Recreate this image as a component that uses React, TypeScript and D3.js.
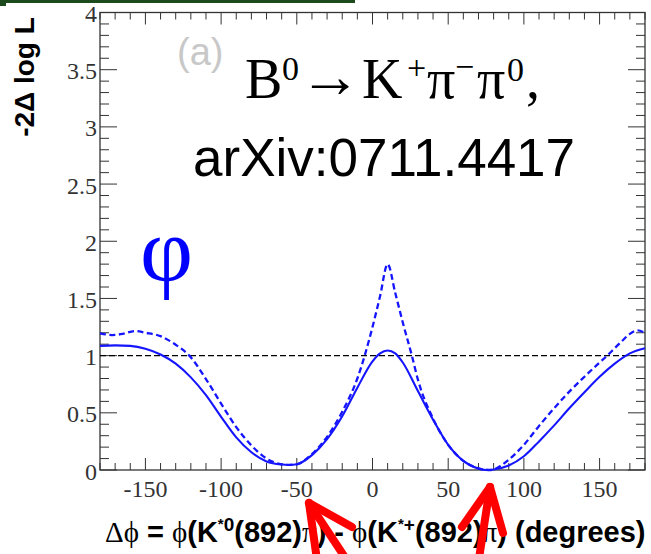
import React from "react";
import * as d3 from "d3";

// Δφ in degrees and -2Δ log L values
const solidDeg = [-180, -170, -160, -150, -140, -130, -120, -110, -100, -90, -80, -70, -60, -55, -50, -40, -30, -20, -10, 0, 5, 10, 15, 20, 30, 40, 50, 60, 70, 75, 80, 90, 100, 110, 120, 130, 140, 150, 160, 170, 180];
const solidVal = [1.085, 1.09, 1.085, 1.06, 1.01, 0.93, 0.81, 0.655, 0.465, 0.285, 0.155, 0.075, 0.048, 0.044, 0.05, 0.13, 0.27, 0.47, 0.72, 0.95, 1.02, 1.045, 1.02, 0.94, 0.69, 0.44, 0.22, 0.08, 0.012, 0.0, 0.005, 0.04, 0.12, 0.25, 0.39, 0.54, 0.68, 0.815, 0.93, 1.02, 1.065];

const dashDeg = [-180, -172, -165, -157, -150, -140, -130, -121, -110, -100, -90, -80, -70, -60, -55, -50, -40, -30, -20, -10, 0, 5, 10, 15, 20, 26, 30, 40, 50, 60, 70, 78, 85, 90, 100, 110, 120, 130, 140, 150, 155, 160, 165, 170, 175, 180];
const dashVal = [1.195, 1.18, 1.19, 1.215, 1.2, 1.17, 1.095, 1.0, 0.795, 0.58, 0.375, 0.215, 0.1, 0.05, 0.045, 0.05, 0.14, 0.29, 0.51, 0.8, 1.25, 1.52, 1.8, 1.55, 1.29, 1.0, 0.79, 0.45, 0.22, 0.08, 0.015, 0.0, 0.04, 0.09, 0.22, 0.385, 0.54, 0.685, 0.815, 0.94, 1.0, 1.065, 1.13, 1.19, 1.22, 1.2];

const xTickLabels = [-150, -100, -50, 0, 50, 100, 150];
const yTickLabels = [0, 0.5, 1, 1.5, 2, 2.5, 3, 3.5, 4];
const refLevel = 1;

const W = 651, H = 554;
const L = 100, R = 645, T = 12.5, B = 470;

export default function App() {
  const x = d3.scaleLinear().domain([-180, 180]).range([L, R]);
  const y = d3.scaleLinear().domain([0, 4]).range([B, T]);
  const line = d3.line<[number, number]>().x(d => x(d[0])).y(d => y(d[1])).curve(d3.curveMonotoneX);
  const solid = solidDeg.map((d, i) => [d, solidVal[i]] as [number, number]);
  const dashed = dashDeg.map((d, i) => [d, dashVal[i]] as [number, number]);

  const xMinor = d3.range(-180, 181, 10);
  const yMinor = d3.range(0, 41, 1).map(v => v / 10);
  const axisCol = "#333";

  const sup = 34;
  return (
    <svg width={W} height={H} style={{ display: "block", position: "absolute", left: 0, top: 0 }}>
      <rect x={0} y={0} width={W} height={H} fill="#fff" />
      <rect x={0} y={0} width={355} height={3} fill="#1d4a1d" />
      <rect x={0} y={0} width={6} height={6} fill="#1d4a1d" />

      {/* ticks */}
      {xMinor.map(v => {
        const major = v % 50 === 0;
        const len = major ? 12 : 7;
        return (
          <g key={"xt" + v} stroke={axisCol} strokeWidth={1}>
            <line x1={x(v)} x2={x(v)} y1={B} y2={B - len} />
            <line x1={x(v)} x2={x(v)} y1={T} y2={T + len} />
          </g>
        );
      })}
      {yMinor.map(v => {
        const major = Math.round(v * 10) % 5 === 0;
        const len = major ? 17 : 9;
        return (
          <g key={"yt" + v} stroke={axisCol} strokeWidth={1}>
            <line x1={L} x2={L + len} y1={y(v)} y2={y(v)} />
            <line x1={R} x2={R - len} y1={y(v)} y2={y(v)} />
          </g>
        );
      })}
      <rect x={L} y={T} width={R - L} height={B - T} fill="none" stroke={axisCol} strokeWidth={1.3} />

      {xTickLabels.map(v => (
        <text key={"xl" + v} x={x(v)} y={497} textAnchor="middle" fontFamily="Liberation Serif" fontSize={24} fill="#333">{String(v)}</text>
      ))}
      {yTickLabels.map(v => (
        <text key={"yl" + v} x={97} y={y(v) + 9.5} textAnchor="end" fontFamily="Liberation Serif" fontSize={24} fill="#333">{String(v)}</text>
      ))}

      {/* reference line */}
      <line x1={x(-180)} x2={x(180)} y1={y(refLevel)} y2={y(refLevel)} stroke="#000" strokeWidth={1.3} strokeDasharray="6,3" />

      <path d={line(dashed) || ""} fill="none" stroke="#1515ff" strokeWidth={2.3} strokeDasharray="6,3.5" />
      <path d={line(solid) || ""} fill="none" stroke="#1515ff" strokeWidth={2.1} />

      {/* annotations */}
      <text x={177} y={65} fontFamily="Liberation Sans" fontSize={38} fill="#c8c8c8">(a)</text>
      <text fontFamily="Liberation Serif" fill="#000" fontSize={56}>
        <tspan x={245} y={98}>B</tspan>
        <tspan x={282} y={80} fontSize={sup}>0</tspan>
        <tspan x={299} y={97} fontSize={62}>→</tspan>
        <tspan x={362} y={98}>K</tspan>
        <tspan x={407} y={79} fontSize={sup}>+</tspan>
        <tspan x={427} y={98}>π</tspan>
        <tspan x={455} y={78} fontSize={sup}>−</tspan>
        <tspan x={477} y={98}>π</tspan>
        <tspan x={507} y={81} fontSize={sup}>0</tspan>
        <tspan x={526} y={98}>,</tspan>
      </text>
      <text x={193} y={176} fontFamily="Liberation Sans" fontSize={53} fill="#000">arXiv:0711.4417</text>
      <text x={140} y={281} fontFamily="Liberation Serif" fontSize={92} fill="#0000ff">φ</text>

      <text transform="translate(34,77) rotate(-90)" textAnchor="middle" fontFamily="Liberation Sans" fontWeight="bold" fontSize={28} fill="#000">-2Δ log L</text>

      <text x={105} y={542} fontFamily="Liberation Sans" fontWeight="bold" fontSize={29} fill="#000">
        <tspan fontFamily="Liberation Serif" fontWeight="normal">Δϕ</tspan>
        <tspan> = </tspan>
        <tspan fontFamily="Liberation Serif" fontWeight="normal">ϕ</tspan>
        <tspan>(K</tspan>
        <tspan dy={-13} fontSize={15}>*</tspan>
        <tspan dy={2} fontSize={19}>0</tspan>
        <tspan dy={11}>(892)</tspan>
        <tspan fontFamily="Liberation Serif" fontWeight="normal">π</tspan>
        <tspan>) - </tspan>
        <tspan fontFamily="Liberation Serif" fontWeight="normal">ϕ</tspan>
        <tspan>(K</tspan>
        <tspan dy={-13} fontSize={15}>*</tspan>
        <tspan dy={2} fontSize={19}>+</tspan>
        <tspan dy={11}>(892)</tspan>
        <tspan fontFamily="Liberation Serif" fontWeight="normal">π</tspan>
        <tspan>) (degrees)</tspan>
      </text>

      {/* red arrows */}
      <g stroke="#ff0000" strokeWidth={8} strokeLinecap="round" fill="none">
        <line x1={309} y1={503} x2={350} y2={565} />
        <line x1={309} y1={503} x2={317} y2={560} />
        <line x1={309} y1={503} x2={352} y2={527} />
        <line x1={490} y1={487} x2={478} y2={565} />
        <line x1={490} y1={487} x2={462} y2={527} />
        <line x1={490} y1={487} x2={503} y2={533} />
      </g>
    </svg>
  );
}
